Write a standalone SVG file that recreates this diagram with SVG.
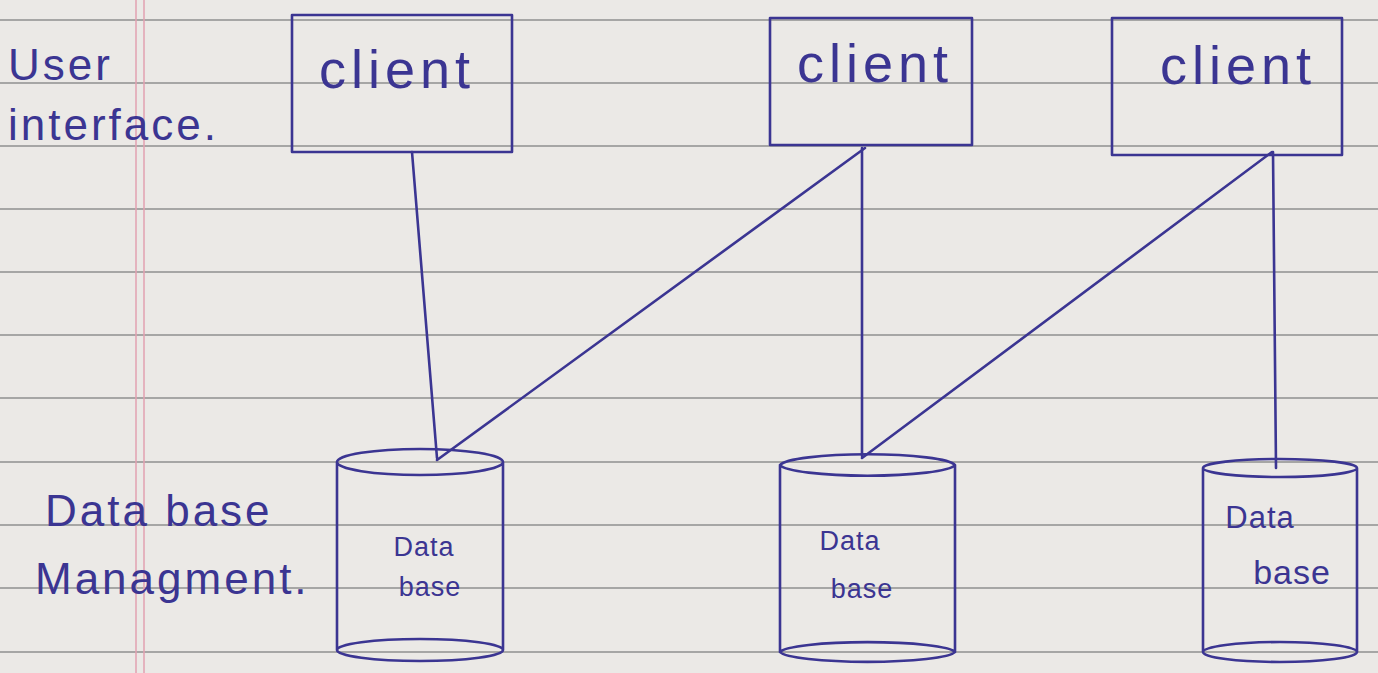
<svg xmlns="http://www.w3.org/2000/svg" width="1378" height="673" viewBox="0 0 1378 673">
<style>
.ink{fill:none;stroke:#3b3592;stroke-width:2.6;stroke-linecap:round;stroke-linejoin:round}
.rule{stroke:#8f8f8f;stroke-width:1.6}
.margin{stroke:#e2a0b0;stroke-width:1.5}
.t{fill:#3b3592;font-family:"Liberation Sans",Arial,sans-serif}
.big{font-size:54px;letter-spacing:5px}
.lbl{font-size:44px;letter-spacing:3px}
.db{font-size:27px;letter-spacing:1px}
</style>
<g id="paper">
<rect x="0" y="0" width="1378" height="673" fill="#ebe9e6"/>
<line class="rule" x1="0" y1="20" x2="1378" y2="20"/>
<line class="rule" x1="0" y1="83" x2="1378" y2="83"/>
<line class="rule" x1="0" y1="146" x2="1378" y2="146"/>
<line class="rule" x1="0" y1="209" x2="1378" y2="209"/>
<line class="rule" x1="0" y1="272" x2="1378" y2="272"/>
<line class="rule" x1="0" y1="335" x2="1378" y2="335"/>
<line class="rule" x1="0" y1="398" x2="1378" y2="398"/>
<line class="rule" x1="0" y1="462" x2="1378" y2="462"/>
<line class="rule" x1="0" y1="525" x2="1378" y2="525"/>
<line class="rule" x1="0" y1="588" x2="1378" y2="588"/>
<line class="rule" x1="0" y1="652" x2="1378" y2="652"/>
<line class="margin" x1="136" y1="0" x2="136" y2="673"/>
<line class="margin" x1="144" y1="0" x2="144" y2="673"/>
</g>
<g id="labels">
<text class="t lbl" x="8" y="80">User</text>
<text class="t lbl" x="8" y="140">interface.</text>
<text class="t lbl" x="45" y="526">Data base</text>
<text class="t lbl" x="35" y="594">Managment.</text>
</g>
<g id="connectors">
<path class="ink" d="M412 152 L437 458"/>
<path class="ink" d="M865 148 L437 460"/>
<path class="ink" d="M862 148 L862 456"/>
<path class="ink" d="M1272 152 L862 458"/>
<path class="ink" d="M1273 152 L1276 468"/>
</g>
<g id="client1">
<rect class="ink" x="292" y="15" width="220" height="137"/>
<text class="t big" x="397" y="88" text-anchor="middle">client</text>
</g>
<g id="client2">
<rect class="ink" x="770" y="18" width="202" height="127"/>
<text class="t big" x="875" y="82" text-anchor="middle">client</text>
</g>
<g id="client3">
<rect class="ink" x="1112" y="18" width="230" height="137"/>
<text class="t big" x="1238" y="84" text-anchor="middle">client</text>
</g>
<g id="db1">
<path class="ink" d="M337 462 A83 13 0 0 0 503 462 A83 13 0 0 0 337 462 L337 650 A83 11 0 0 0 503 650 L503 462 M337 650 A83 11 0 0 1 503 650"/>
<text class="t db" x="424" y="556" text-anchor="middle">Data</text>
<text class="t db" x="430" y="596" text-anchor="middle">base</text>
</g>
<g id="db2">
<path class="ink" d="M780 465 A88 12 0 0 0 955 465 A88 12 0 0 0 780 465 L780 652 A88 11 0 0 0 955 652 L955 465 M780 652 A88 11 0 0 1 955 652"/>
<text class="t db" x="850" y="550" text-anchor="middle">Data</text>
<text class="t db" x="862" y="598" text-anchor="middle">base</text>
</g>
<g id="db3">
<path class="ink" d="M1203 468 A77 9 0 0 0 1357 468 A77 9 0 0 0 1203 468 L1203 652 A77 10 0 0 0 1357 652 L1357 468 M1203 652 A77 10 0 0 1 1357 652"/>
<text class="t db" x="1260" y="528" text-anchor="middle" style="font-size:31px">Data</text>
<text class="t db" x="1292" y="584" text-anchor="middle" style="font-size:34px">base</text>
</g>
</svg>
